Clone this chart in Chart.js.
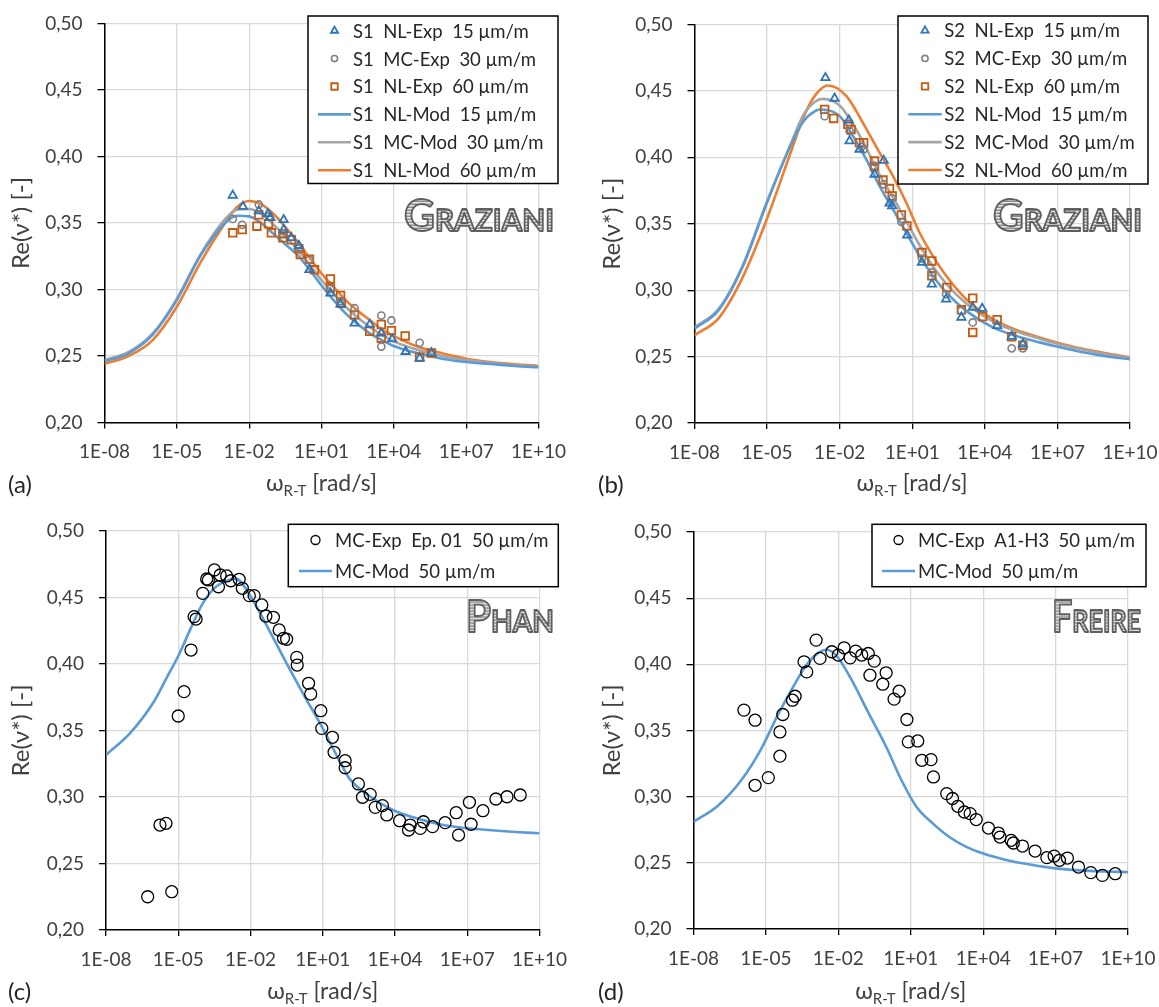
<!DOCTYPE html>
<html><head><meta charset="utf-8">
<script src="https://cdn.jsdelivr.net/npm/chart.js@4.4.1/dist/chart.umd.min.js"></script>
<style>
html,body{margin:0;padding:0;background:#fff;}
#wrap{position:relative;width:1159px;height:1007px;overflow:hidden;background:#fff;}
canvas{position:absolute;display:block;}
</style></head><body>
<div id="wrap">
<canvas id="ca" width="580" height="504" style="left:0px;top:0px;width:580px;height:504px"></canvas>
<canvas id="cb" width="579" height="504" style="left:580px;top:0px;width:579px;height:504px"></canvas>
<canvas id="cc" width="580" height="503" style="left:0px;top:504px;width:580px;height:503px"></canvas>
<canvas id="cd" width="579" height="503" style="left:580px;top:504px;width:579px;height:503px"></canvas>
</div>
<script>
// ---------- axis ticks ----------
const xTickValues = [1e-8, 1e-5, 1e-2, 1e1, 1e4, 1e7, 1e10];
const xTickLabels = ['1E-08', '1E-05', '1E-02', '1E+01', '1E+04', '1E+07', '1E+10'];
const yTickValues = [0.20, 0.25, 0.30, 0.35, 0.40, 0.45, 0.50];
const yTickLabels = ['0,20', '0,25', '0,30', '0,35', '0,40', '0,45', '0,50'];

// ---------- panel (a) : x values are log10(omega) ----------
const aNL15ExpLog = [-2.68,-2.26,-1.6,-1.22,-1.12,-0.57,-0.57,-0.25,0.06,0.5,1.37,1.79,2.37,3.0,3.48,3.93,4.49,5.07,5.56];
const aNL15Exp    = [0.3707,0.3624,0.359,0.3569,0.354,0.3524,0.345,0.339,0.333,0.3148,0.2972,0.289,0.2746,0.2737,0.2671,0.2628,0.2533,0.2483,0.2523];
const aMC30ExpLog = [-2.68,-2.29,-1.6,-1.18,-0.6,0.06,0.5,1.37,1.79,2.37,3.48,3.9,3.48,5.07];
const aMC30Exp    = [0.3531,0.3486,0.3639,0.3549,0.3423,0.331,0.3223,0.3005,0.2912,0.2859,0.2804,0.2767,0.2571,0.2599];
const aNL60ExpLog = [-2.68,-2.29,-1.68,-1.6,-1.2,-1.08,-0.6,-0.6,-0.25,0.06,0.12,0.5,0.71,1.37,1.37,1.79,1.82,2.37,3.0,3.48,3.9,3.48,4.47,5.07,5.56];
const aNL60Exp    = [0.3426,0.345,0.3476,0.3561,0.3494,0.3426,0.3419,0.3389,0.3374,0.3306,0.3263,0.3228,0.3148,0.308,0.3012,0.2955,0.2897,0.2809,0.2686,0.2737,0.2691,0.2634,0.2651,0.249,0.2523];
const aModLog  = [-8,-7,-6,-5,-4,-3,-2.5,-2,-1.5,-1,-0.5,0,0.5,1,1.5,2,2.5,3,3.5,4,5,6,7,8,9,10];
const aNL15Mod = [0.246,0.252,0.266,0.292,0.326,0.350,0.3555,0.355,0.350,0.342,0.334,0.326,0.315,0.303,0.292,0.282,0.274,0.267,0.262,0.2575,0.252,0.248,0.2455,0.244,0.2425,0.2415];
const aMC30Mod = [0.247,0.253,0.267,0.293,0.327,0.353,0.360,0.3605,0.357,0.349,0.340,0.330,0.319,0.307,0.297,0.287,0.279,0.272,0.266,0.261,0.2545,0.250,0.247,0.2448,0.243,0.242];
const aNL60Mod = [0.244,0.250,0.262,0.287,0.321,0.350,0.362,0.3665,0.364,0.357,0.347,0.336,0.324,0.312,0.302,0.292,0.284,0.277,0.270,0.265,0.257,0.252,0.248,0.2455,0.2438,0.2425];

// ---------- panel (b) ----------
const bNL15ExpLog = [-2.59,-2.21,-1.62,-1.59,-1.18,-0.56,-0.18,0.06,0.17,0.79,1.4,1.81,2.4,3.03,3.5,3.89,4.51,5.11,5.57];
const bNL15Exp    = [0.4599,0.4444,0.428,0.4123,0.406,0.3872,0.3977,0.3654,0.3634,0.3414,0.3208,0.3045,0.2932,0.2795,0.287,0.2862,0.2732,0.2652,0.2594];
const bMC30ExpLog = [-2.62,-1.59,-1.1,-1.01,-0.56,-0.18,0.17,0.55,1.4,1.81,2.4,3.03,3.5,5.11,5.57];
const bMC30Exp    = [0.431,0.4198,0.408,0.406,0.3935,0.3797,0.369,0.3514,0.3238,0.3133,0.297,0.2844,0.2757,0.2562,0.2562];
const bNL60ExpLog = [-2.62,-2.25,-1.66,-1.53,-1.18,-1.01,-0.56,-0.56,-0.21,0.06,0.17,0.55,0.78,1.4,1.81,1.81,2.43,3.03,3.5,3.5,3.91,4.51,5.11,5.57];
const bNL60Exp    = [0.4361,0.4293,0.4248,0.421,0.411,0.411,0.3972,0.393,0.3829,0.3765,0.3709,0.3566,0.3484,0.3283,0.322,0.3108,0.302,0.2852,0.294,0.2682,0.2802,0.2777,0.2649,0.2586];
const bNL15ModLog = [-8,-7,-6,-5,-4,-3.5,-3,-2.76,-2,-1.45,-0.9,-0.35,0.2,0.75,1.3,1.85,2.4,3.23,4.33,5.3,6.26,7,8,9,10];
const bNL15Mod    = [0.271,0.285,0.318,0.366,0.410,0.427,0.435,0.436,0.431,0.416,0.3985,0.3784,0.361,0.3434,0.3258,0.3108,0.2983,0.2844,0.272,0.2655,0.2607,0.2575,0.2535,0.2503,0.248];
const bMC30ModLog = [-8,-7,-6,-5,-4,-3.5,-3,-2.7,-2,-1.45,-0.9,-0.35,0.2,0.75,1.3,1.85,2.4,3.23,4.33,5.3,6.26,7,8,9,10];
const bMC30Mod    = [0.272,0.286,0.319,0.367,0.411,0.432,0.442,0.444,0.439,0.425,0.407,0.387,0.370,0.352,0.334,0.318,0.305,0.290,0.2765,0.269,0.2635,0.2597,0.2555,0.2518,0.249];
const bNL60ModLog = [-8,-7,-6,-5,-4,-3.5,-3,-2.48,-1.72,-1.04,-0.35,0.2,0.75,1.3,1.85,2.4,3.23,4.33,5.3,6.26,7,8,9,10];
const bNL60Mod    = [0.266,0.279,0.310,0.354,0.405,0.430,0.447,0.4541,0.4461,0.426,0.4035,0.386,0.366,0.3434,0.3258,0.3108,0.2932,0.2782,0.270,0.2644,0.2605,0.2560,0.2525,0.2495];

// ---------- panel (c) ----------
const cExpLog = [-6.27,-5.76,-5.51,-5.27,-5.0,-4.76,-4.47,-4.34,-4.26,-3.98,-3.82,-3.75,-3.5,-3.33,-3.26,-2.99,-2.82,-2.47,-2.34,-2.05,-1.85,-1.53,-1.36,-1.05,-0.81,-0.63,-0.5,-0.08,-0.06,0.41,0.5,0.92,0.96,1.4,1.47,1.93,1.93,2.48,2.65,2.97,3.18,3.48,3.66,4.19,4.56,4.63,5.05,5.18,5.56,6.08,6.54,6.64,7.09,7.16,7.65,8.19,8.65,9.2];
const cExp    = [0.225,0.2789,0.2802,0.2288,0.3609,0.3792,0.4105,0.4356,0.4338,0.4531,0.4639,0.4632,0.4707,0.4581,0.4669,0.4662,0.4626,0.4637,0.4569,0.4514,0.4514,0.4444,0.4361,0.4351,0.4256,0.4193,0.4186,0.405,0.3992,0.3855,0.3774,0.3649,0.3516,0.3449,0.3336,0.3273,0.322,0.3098,0.2998,0.302,0.2922,0.2935,0.2865,0.2822,0.2752,0.2789,0.2764,0.2814,0.2777,0.2807,0.2882,0.2714,0.296,0.2795,0.2897,0.2985,0.3002,0.3015];
const cModLog = [-8,-7,-6,-5.5,-5,-4.5,-4,-3.5,-3,-2.6,-2,-1.3,-0.5,0.3,0.9,1.3,1.7,2.1,3,4,5,6,7,8,9,10];
const cMod    = [0.3316,0.348,0.372,0.389,0.406,0.426,0.445,0.457,0.4625,0.464,0.451,0.428,0.4005,0.374,0.355,0.341,0.327,0.314,0.300,0.2895,0.2835,0.279,0.2765,0.275,0.2737,0.2727];

// ---------- panel (d) ----------
const dExpLog = [-5.91,-5.45,-5.45,-4.9,-4.42,-4.42,-4.3,-3.9,-3.79,-3.42,-3.31,-2.92,-2.76,-2.27,-2.0,-1.76,-1.51,-1.28,-1.03,-0.76,-0.69,-0.51,-0.16,-0.02,0.31,0.52,0.84,0.9,1.29,1.46,1.84,1.94,2.49,2.73,2.95,3.22,3.46,3.71,4.22,4.63,4.7,5.16,5.25,5.63,6.15,6.64,6.94,7.16,7.49,7.95,8.46,8.94,9.47];
const dExp    = [0.3654,0.3578,0.3086,0.3144,0.3306,0.3489,0.3621,0.3729,0.3759,0.4019,0.3943,0.4183,0.4045,0.4095,0.407,0.4125,0.4049,0.41,0.407,0.4082,0.3918,0.4024,0.385,0.3936,0.3737,0.3797,0.3583,0.3414,0.3421,0.3275,0.328,0.3149,0.3023,0.2986,0.2927,0.2884,0.2872,0.2827,0.2763,0.2725,0.2695,0.267,0.265,0.2627,0.2589,0.2539,0.2551,0.2519,0.2536,0.2468,0.2426,0.2405,0.2418];
const dModLog = [-8,-7,-6,-5.2,-4.5,-3.9,-3.3,-2.8,-2.5,-2.1,-1.5,-0.8,0,0.6,1.25,1.9,2.6,3.3,4,5,6,7,8,9,10];
const dMod    = [0.281,0.293,0.313,0.336,0.362,0.382,0.400,0.409,0.411,0.407,0.390,0.365,0.337,0.313,0.292,0.280,0.2695,0.262,0.257,0.252,0.2485,0.2458,0.2443,0.2435,0.243];

// ---------- labels ----------
const aLabels = ['S1  NL-Exp  15 µm/m','S1  MC-Exp  30 µm/m','S1  NL-Exp  60 µm/m','S1  NL-Mod  15 µm/m','S1  MC-Mod  30 µm/m','S1  NL-Mod  60 µm/m'];
const bLabels = ['S2  NL-Exp  15 µm/m','S2  MC-Exp  30 µm/m','S2  NL-Exp  60 µm/m','S2  NL-Mod  15 µm/m','S2  MC-Mod  30 µm/m','S2  NL-Mod  60 µm/m'];
const cLabels = ['MC-Exp  Ep. 01  50 µm/m','MC-Mod  50 µm/m'];
const dLabels = ['MC-Exp  A1-H3  50 µm/m','MC-Mod  50 µm/m'];
const panelTitles = ['Graziani','Graziani','Phan','Freire'];
const panelTags = ['(a)','(b)','(c)','(d)'];
const yAxisTitle = 'Re(ν*) [-]';

// ---------- styles ----------
const FONT = 'Lato, "Open Sans", "DejaVu Sans", sans-serif';
const TXT = '#404040';
const STY = {
  tri:   {pointStyle:'triangle', pointRadius:4.8, pointBorderColor:'#2E75B6', pointBorderWidth:1.8},
  cgray: {pointStyle:'circle',   pointRadius:3.6, pointBorderColor:'#808080', pointBorderWidth:1.6},
  sq:    {pointStyle:'rect',     pointRadius:5.4, pointBorderColor:'#C55A11', pointBorderWidth:1.8},
  cblk:  {pointStyle:'circle',   pointRadius:6.0, pointBorderColor:'#000000', pointBorderWidth:1.3},
  lblue: {color:'#5B9BD5'}, lgray: {color:'#A5A5A5'}, lorange: {color:'#ED7D31'}
};

function pts(logs, vals) { return logs.map((l, i) => ({x: Math.pow(10, l), y: vals[i]})); }
function expSet(label, logs, vals, s) {
  return Object.assign({label, data: pts(logs, vals), showLine:false, pointBackgroundColor:'rgba(0,0,0,0)',
    borderColor: s.pointBorderColor, pointHoverRadius: s.pointRadius, pointRotation:0}, s);
}
function modSet(label, logs, vals, s) {
  return {label, data: pts(logs, vals), showLine:true, borderColor:s.color, backgroundColor:s.color,
    borderWidth:2.6, pointRadius:0, pointHoverRadius:0, cubicInterpolationMode:'monotone', fill:false};
}

let stripePat = null;
function getStripes(ctx) {
  const c = document.createElement('canvas'); c.width = 4; c.height = 3;
  const g = c.getContext('2d');
  g.fillStyle = '#e6e6e6'; g.fillRect(0, 0, 4, 3);
  g.fillStyle = '#8c8c8c'; g.fillRect(0, 0, 4, 1);
  g.fillStyle = '#bdbdbd'; g.fillRect(0, 2, 4, 1);
  return ctx.createPattern(c, 'repeat');
}

const overlay = {
  id: 'overlay',
  afterDraw(chart, args, o) {
    const ctx = chart.ctx;
    // legend
    const L = o.legend;
    ctx.save();
    ctx.fillStyle = '#ffffff'; ctx.fillRect(L.x, L.y, L.w, L.h);
    ctx.lineWidth = 1.5; ctx.strokeStyle = '#000000'; ctx.strokeRect(L.x, L.y, L.w, L.h);
    ctx.textBaseline = 'middle'; ctx.textAlign = 'left';
    chart.data.datasets.forEach((ds, i) => {
      const cy = L.rowY + i * L.rowH;
      const cx = L.sampleX + L.sampleW / 2;
      if (ds.showLine) {
        ctx.strokeStyle = ds.borderColor; ctx.lineWidth = ds.borderWidth;
        ctx.beginPath(); ctx.moveTo(L.sampleX, cy); ctx.lineTo(L.sampleX + L.sampleW, cy); ctx.stroke();
      } else {
        ctx.strokeStyle = ds.pointBorderColor; ctx.fillStyle = 'rgba(0,0,0,0)'; ctx.lineWidth = ds.pointBorderWidth;
        Chart.helpers.drawPoint(ctx, {pointStyle: ds.pointStyle, radius: ds.pointRadius * L.markerScale,
          borderWidth: ds.pointBorderWidth, rotation: 0}, cx, cy);
      }
      ctx.font = L.fontSize + 'px ' + FONT;
      ctx.fillStyle = '#262626'; ctx.fillText(ds.label, L.textX, cy + 1);
    });
    ctx.restore();
    // watermark title
    const T = o.title;
    ctx.save();
    if (!stripePat) stripePat = getStripes(ctx);
    ctx.font = 'bold ' + T.size + 'px ' + FONT;
    ctx.fontVariantCaps = 'small-caps';
    const w = ctx.measureText(T.text).width;
    ctx.translate(T.x, T.base); ctx.scale(T.w / w, 1);
    ctx.textBaseline = 'alphabetic'; ctx.textAlign = 'left';
    ctx.fillStyle = stripePat; ctx.fillText(T.text, 0, 0);
    ctx.lineJoin = 'round'; ctx.lineWidth = 1.8; ctx.strokeStyle = '#5e5e5e'; ctx.strokeText(T.text, 0, 0);
    ctx.fontVariantCaps = 'normal';
    ctx.restore();
    // panel tag
    ctx.save();
    ctx.font = o.tag.size + 'px ' + FONT; ctx.fillStyle = '#262626';
    ctx.textBaseline = 'middle'; ctx.textAlign = 'left';
    ctx.fillText(o.tag.text, o.tag.x, o.tag.y);
    ctx.restore();
    // x axis title with subscript
    const X = o.xTitle;
    ctx.save();
    ctx.fillStyle = TXT; ctx.textBaseline = 'alphabetic'; ctx.textAlign = 'left';
    const parts = [['ω', X.size, 0], ['R-T', X.subSize, X.subDy], [' [rad/s]', X.size, 0]];
    let tot = 0;
    parts.forEach(p => { ctx.font = p[1] + 'px ' + FONT; p.push(ctx.measureText(p[0]).width); tot += p[3]; });
    let cx = X.cx - tot / 2;
    parts.forEach(p => { ctx.font = p[1] + 'px ' + FONT; ctx.fillText(p[0], cx, X.base + p[2]); cx += p[3]; });
    ctx.restore();
  }
};

function makePanel(id, P, datasets, title, tag) {
  const A = P.area;
  return new Chart(document.getElementById(id), {
    type: 'scatter',
    data: {datasets},
    plugins: [overlay],
    options: {
      responsive: false, animation: false, events: [],
      layout: {padding: {left: 0, top: A.top, right: P.W - A.right, bottom: 0}},
      plugins: {
        legend: {display: false}, tooltip: {enabled: false},
        overlay: {
          legend: P.legend,
          title: Object.assign({text: title}, P.title),
          tag: Object.assign({text: tag}, P.tag),
          xTitle: P.xTitle
        }
      },
      scales: {
        x: {
          type: 'logarithmic', position: 'bottom', min: 1e-8, max: 1e10,
          afterBuildTicks: s => { s.ticks = xTickValues.map(v => ({value: v})); },
          afterFit: s => { s.height = P.H - A.bottom; s.paddingLeft = 0; s.paddingRight = 0; },
          ticks: {callback: (v, i) => xTickLabels[i], autoSkip: false, maxRotation: 0, minRotation: 0,
                  font: {family: FONT, size: 19}, color: TXT, padding: 12},
          grid: {color: '#d9d9d9', lineWidth: 1.3, drawTicks: true, tickLength: 6, tickColor: '#000000', tickWidth: 1.3},
          border: {color: '#000000', width: 1.5}
        },
        y: {
          type: 'linear', position: 'left', min: 0.2, max: 0.5,
          afterBuildTicks: s => { s.ticks = yTickValues.map(v => ({value: v})); },
          afterFit: s => { s.width = A.left; s.paddingTop = 0; s.paddingBottom = 0; },
          ticks: {callback: (v, i) => yTickLabels[i], font: {family: FONT, size: 19}, color: TXT, padding: 15},
          grid: {color: '#d9d9d9', lineWidth: 1.3, drawTicks: true, tickLength: 7, tickColor: '#000000', tickWidth: 1.3},
          border: {color: '#000000', width: 1.5},
          title: {display: true, text: yAxisTitle, font: {family: FONT, size: 24}, color: TXT,
                  padding: {top: P.yTitlePad, bottom: 0}}
        }
      }
    }
  });
}

const LAYOUT = {
  a: {W:580, H:504, area:{left:104.5, right:538.5, top:23.5, bottom:422.5},
      legend:{x:308, y:16, w:250, h:167.5, rowY:30.7, rowH:27.9, sampleX:318, sampleW:33, textX:353, fontSize:18.5, markerScale:0.85},
      title:{x:404, w:150, base:231, size:43}, tag:{x:8, y:485, size:24},
      xTitle:{cx:321.5, base:491, size:23, subSize:15, subDy:5}, yTitlePad:6.6},
  b: {W:579, H:504, area:{left:114.5, right:550, top:24.5, bottom:423},
      legend:{x:318, y:16, w:250, h:168, rowY:30.5, rowH:27.9, sampleX:328.3, sampleW:33.4, textX:364.3, fontSize:18.5, markerScale:0.85},
      title:{x:413, w:149, base:231, size:43}, tag:{x:18, y:485, size:24},
      xTitle:{cx:332, base:491, size:23, subSize:15, subDy:5}, yTitlePad:17.6},
  c: {W:580, H:503, area:{left:106, right:539.5, top:27, bottom:426},
      legend:{x:288.3, y:20.3, w:270, h:62.4, rowY:36, rowH:31, sampleX:299, sampleW:33, textX:335, fontSize:18.5, markerScale:0.75},
      title:{x:466, w:88, base:127.7, size:43}, tag:{x:8, y:488.5, size:24},
      xTitle:{cx:322.8, base:494.5, size:23, subSize:15, subDy:5}, yTitlePad:6.6},
  d: {W:579, H:503, area:{left:113.5, right:548, top:28, bottom:425},
      legend:{x:292, y:20.3, w:274, h:62.4, rowY:36, rowH:31, sampleX:302, sampleW:33, textX:338, fontSize:18.5, markerScale:0.75},
      title:{x:472, w:89, base:127.7, size:43}, tag:{x:18, y:488.5, size:24},
      xTitle:{cx:330.8, base:494.5, size:23, subSize:15, subDy:5}, yTitlePad:17.6}
};

makePanel('ca', LAYOUT.a, [
  expSet(aLabels[0], aNL15ExpLog, aNL15Exp, STY.tri),
  expSet(aLabels[1], aMC30ExpLog, aMC30Exp, STY.cgray),
  expSet(aLabels[2], aNL60ExpLog, aNL60Exp, STY.sq),
  modSet(aLabels[3], aModLog, aNL15Mod, STY.lblue),
  modSet(aLabels[4], aModLog, aMC30Mod, STY.lgray),
  modSet(aLabels[5], aModLog, aNL60Mod, STY.lorange)
], panelTitles[0], panelTags[0]);

makePanel('cb', LAYOUT.b, [
  expSet(bLabels[0], bNL15ExpLog, bNL15Exp, STY.tri),
  expSet(bLabels[1], bMC30ExpLog, bMC30Exp, STY.cgray),
  expSet(bLabels[2], bNL60ExpLog, bNL60Exp, STY.sq),
  modSet(bLabels[3], bNL15ModLog, bNL15Mod, STY.lblue),
  modSet(bLabels[4], bMC30ModLog, bMC30Mod, STY.lgray),
  modSet(bLabels[5], bNL60ModLog, bNL60Mod, STY.lorange)
], panelTitles[1], panelTags[1]);

makePanel('cc', LAYOUT.c, [
  expSet(cLabels[0], cExpLog, cExp, STY.cblk),
  modSet(cLabels[1], cModLog, cMod, STY.lblue)
], panelTitles[2], panelTags[2]);

makePanel('cd', LAYOUT.d, [
  expSet(dLabels[0], dExpLog, dExp, STY.cblk),
  modSet(dLabels[1], dModLog, dMod, STY.lblue)
], panelTitles[3], panelTags[3]);
</script>
</body></html>
